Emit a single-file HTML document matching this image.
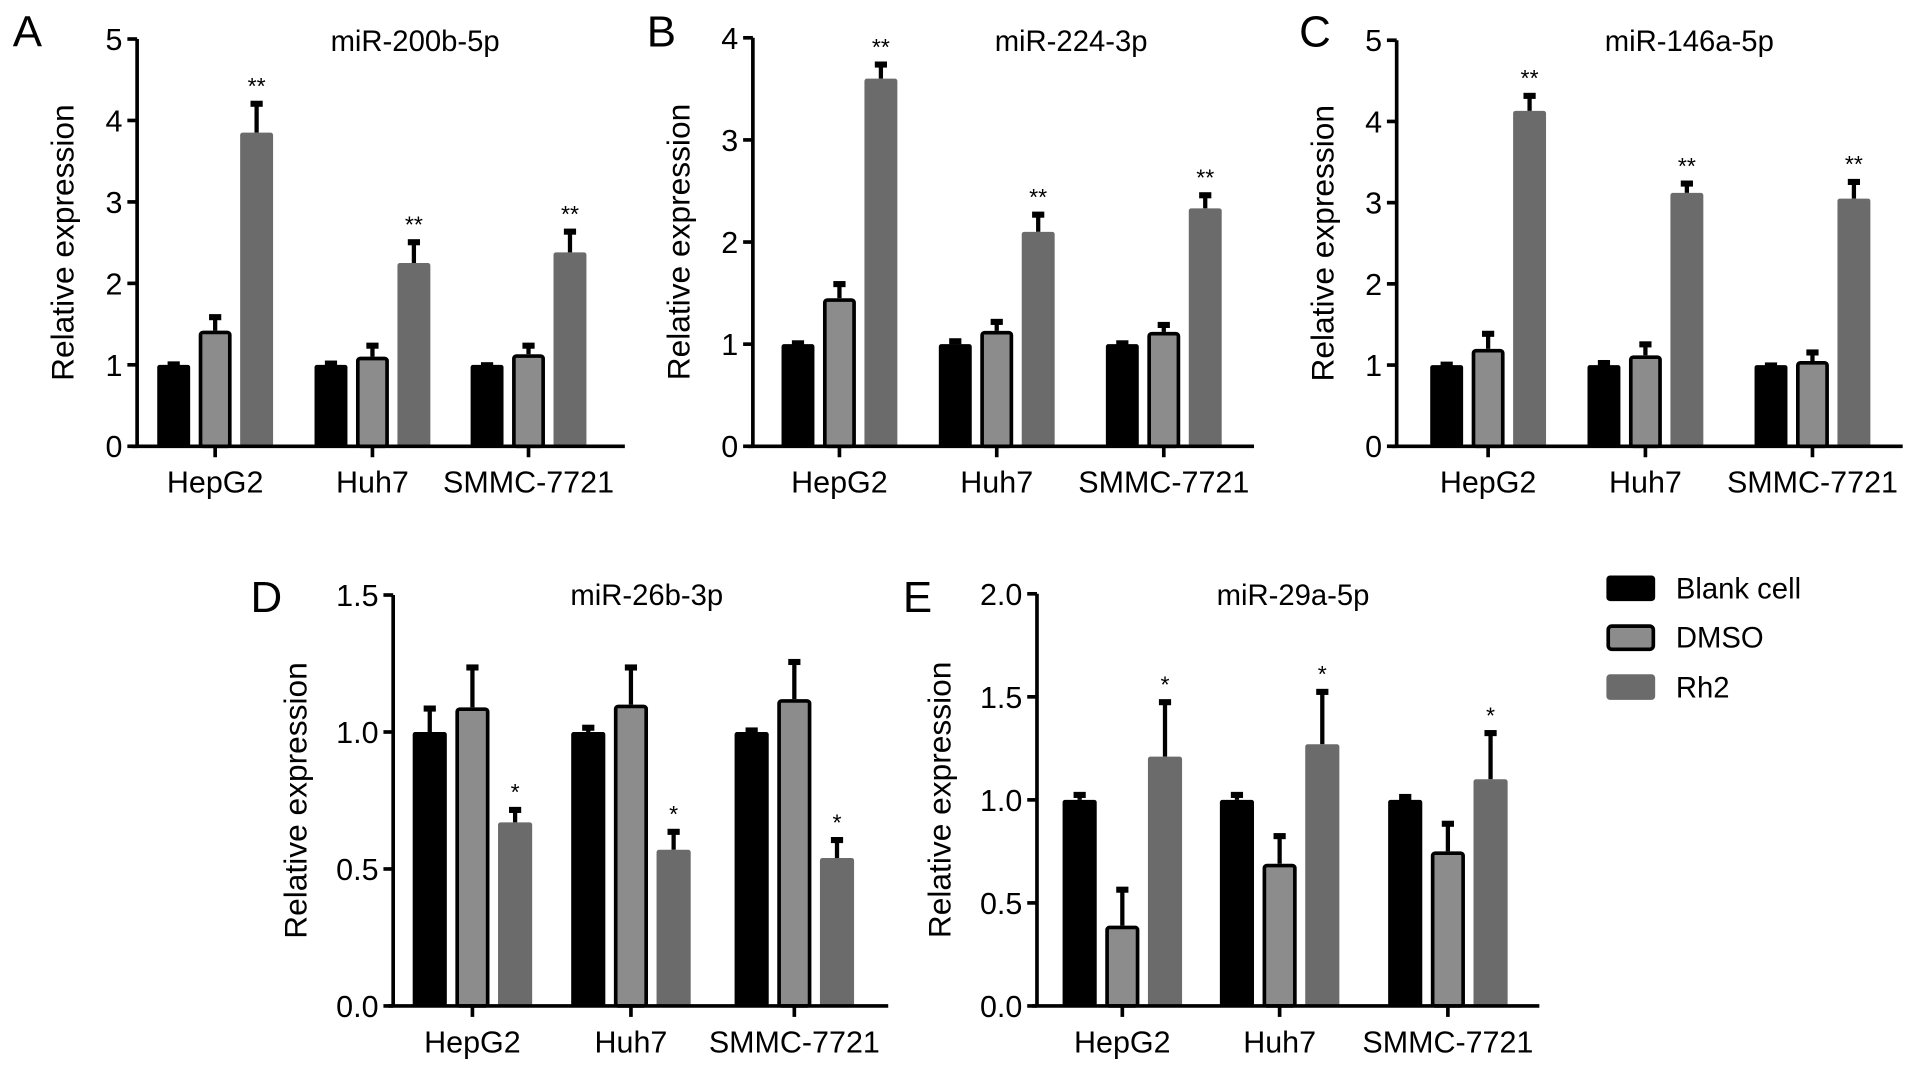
<!DOCTYPE html>
<html><head><meta charset="utf-8"><style>
html,body{margin:0;padding:0;background:#fff;}
svg{display:block;font-family:"Liberation Sans",Arial,sans-serif;}
</style></head><body>
<svg id="fig" width="1913" height="1073" viewBox="0 0 1568 880" xmlns="http://www.w3.org/2000/svg">
<g>
<rect x="1317" y="472" width="40" height="21" rx="3" fill="#000"/>
<text x="1374" y="491" font-size="24">Blank cell</text>
<rect x="1318.5" y="513.5" width="37" height="19" rx="3" fill="#8c8c8c" stroke="#000" stroke-width="3"/>
<text x="1374" y="531" font-size="24">DMSO</text>
<rect x="1317" y="553" width="40" height="21" rx="3" fill="#6b6b6b"/>
<text x="1374" y="572" font-size="24">Rh2</text>
</g>
</svg>
<script>
const categories = ["HepG2","Huh7","SMMC-7721"];
const titles = ["miR-200b-5p","miR-224-3p","miR-146a-5p","miR-26b-3p","miR-29a-5p"];
const letters = ["A","B","C","D","E"];
const blankA=[1,1,1], blankErrA=[0.02,0.03,0.01];
const dmsoA=[1.42,1.1,1.13], dmsoErrA=[0.18,0.15,0.12];
const rh2A=[3.85,2.25,2.38], rh2ErrA=[0.37,0.27,0.27];
const blankB=[1,1,1], blankErrB=[0.02,0.04,0.02];
const dmsoB=[1.45,1.13,1.12], dmsoErrB=[0.15,0.1,0.08];
const rh2B=[3.6,2.1,2.33], rh2ErrB=[0.15,0.18,0.14];
const blankC=[1,1,1], blankErrC=[0.02,0.04,0.01];
const dmsoC=[1.2,1.12,1.05], dmsoErrC=[0.2,0.15,0.12];
const rh2C=[4.13,3.12,3.05], rh2ErrC=[0.2,0.13,0.22];
const blankD=[1,1,1], blankErrD=[0.09,0.02,0.01];
const dmsoD=[1.09,1.1,1.12], dmsoErrD=[0.15,0.14,0.14];
const rh2D=[0.67,0.57,0.54], rh2ErrD=[0.05,0.07,0.07];
const blankE=[1,1,1], blankErrE=[0.03,0.03,0.02];
const dmsoE=[0.39,0.69,0.75], dmsoErrE=[0.18,0.14,0.14];
const rh2E=[1.21,1.27,1.1], rh2ErrE=[0.27,0.26,0.23];
const sigA=["**","**","**"], sigB=["**","**","**"], sigC=["**","**","**"], sigD=["*","*","*"], sigE=["*","*","*"];
const ticksABC=[["0","1","2","3","4","5"],["0","1","2","3","4"],["0","1","2","3","4","5"]];
const ticksD=["0.0","0.5","1.0","1.5"], ticksE=["0.0","0.5","1.0","1.5","2.0"];

const panels=[
 {ax:112,y0:366,ytop:32,max:5,ticks:ticksABC[0],step:1,cx:[176,305,433],bw:27,off:34,xend:512,yto:52,data:[blankA,dmsoA,rh2A],err:[blankErrA,dmsoErrA,rh2ErrA],sig:sigA,lx:10,ly:38,ty:42,tcx:340},
 {ax:617,y0:366,ytop:31,max:4,ticks:ticksABC[1],step:1,cx:[688,817,954],bw:27,off:34,xend:1028,yto:52,data:[blankB,dmsoB,rh2B],err:[blankErrB,dmsoErrB,rh2ErrB],sig:sigB,lx:530,ly:38,ty:42,tcx:878},
 {ax:1145,y0:366,ytop:33,max:5,ticks:ticksABC[2],step:1,cx:[1220,1349,1486],bw:27,off:34,xend:1560,yto:52,data:[blankC,dmsoC,rh2C],err:[blankErrC,dmsoErrC,rh2ErrC],sig:sigC,lx:1065,ly:38,ty:42,tcx:1385},
 {ax:322,y0:825,ytop:488,max:1.5,ticks:ticksD,step:0.5,cx:[387,517,651],bw:28,off:35,xend:728,yto:71,data:[blankD,dmsoD,rh2D],err:[blankErrD,dmsoErrD,rh2ErrD],sig:sigD,lx:205,ly:502,ty:496,tcx:530},
 {ax:850,y0:825,ytop:487,max:2.0,ticks:ticksE,step:0.5,cx:[920,1049,1187],bw:28,off:35,xend:1262,yto:71,data:[blankE,dmsoE,rh2E],err:[blankErrE,dmsoErrE,rh2ErrE],sig:sigE,lx:740,ly:502,ty:496,tcx:1060}
];
const NS="http://www.w3.org/2000/svg";
const svg=document.getElementById('fig');
function mk(tag,attrs,parent,text){const e=document.createElementNS(NS,tag);for(const k in attrs)e.setAttribute(k,attrs[k]);if(text!==undefined)e.textContent=text;parent.appendChild(e);return e;}
const fills=["#000","#8c8c8c","#6b6b6b"];
const snames=["blank-cell","dmso","rh2"];
panels.forEach((p,pi)=>{
 const g=mk('g',{},svg);
 
 
 const y=v=>p.y0-(v/p.max)*(p.y0-p.ytop);
 const L=mk('text',{x:p.lx,y:p.ly,'font-size':36},g,letters[pi]);
 
 
 const T=mk('text',{x:p.tcx,y:p.ty,'font-size':24,'text-anchor':'middle'},g,titles[pi]);
 
 
 const ya=mk('line',{x1:p.ax,y1:p.ytop,x2:p.ax,y2:p.y0+1,stroke:'#000','stroke-width':3},g);
 
 
 p.ticks.forEach((t,i)=>{const v=i*p.step;const yy=y(v);
  mk('line',{x1:p.ax-8,y1:yy,x2:p.ax,y2:yy,stroke:'#000','stroke-width':3},g);
  const tl=mk('text',{x:p.ax-12,y:yy+9,'font-size':25,'text-anchor':'end'},g,t);
  
  });
 const yt=mk('text',{x:0,y:0,'font-size':26,'text-anchor':'middle',transform:`translate(${p.ax-p.yto},${(p.y0+p.ytop)/2}) rotate(-90)`},g,'Relative expression');
 
 
 categories.forEach((c,ci)=>{
  const cx=p.cx[ci];
  [0,1,2].forEach(si=>{
   const v=p.data[si][ci], e=p.err[si][ci];
   const bx=cx+(si-1)*p.off-p.bw/2;
   const top=y(v+e);
   mk('line',{x1:cx+(si-1)*p.off,y1:y(v),x2:cx+(si-1)*p.off,y2:top,stroke:'#000','stroke-width':3.5},g);
   mk('rect',{x:cx+(si-1)*p.off-5,y:top-1.5,width:10,height:5,fill:'#000'},g);
   let r;
   if(si===1) r=mk('rect',{x:bx+1.5,y:y(v)+1.5,width:p.bw-3,height:p.y0-y(v)-1.5,fill:fills[si],stroke:'#000','stroke-width':3,rx:2},g);
   else r=mk('rect',{x:bx,y:y(v),width:p.bw,height:p.y0-y(v),fill:fills[si],rx:2},g);
   
   
   if(si===2){const s=mk('text',{x:cx+p.off,y:top-7,'font-size':19,'text-anchor':'middle'},g,p.sig[ci]);
    
    }
  });
  mk('line',{x1:cx,y1:p.y0,x2:cx,y2:p.y0+9,stroke:'#000','stroke-width':3},g);
  const xl=mk('text',{x:cx,y:p.y0+38,'font-size':25,'text-anchor':'middle'},g,c);
  
  
 });
 const xa=mk('line',{x1:p.ax-4,y1:p.y0,x2:p.xend,y2:p.y0,stroke:'#000','stroke-width':3},g);
 
 
});
</script>
</body></html>
